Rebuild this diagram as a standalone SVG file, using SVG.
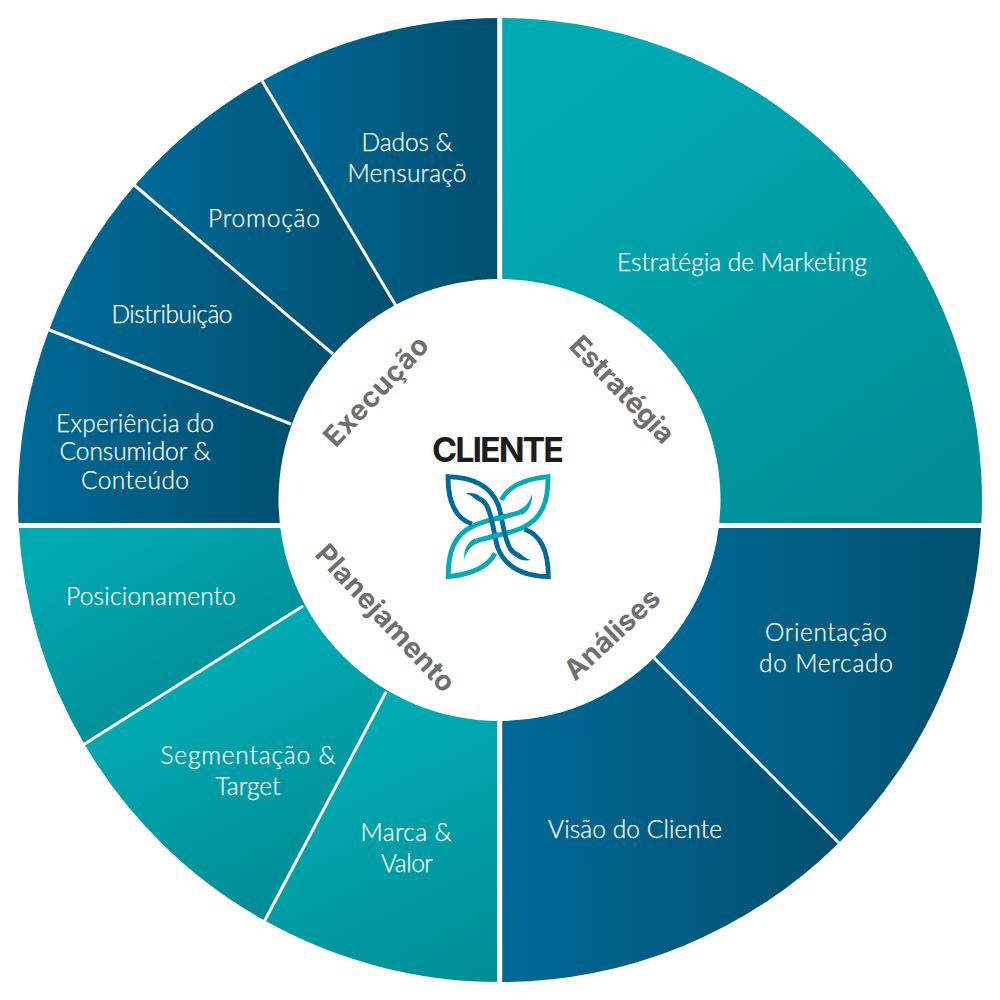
<svg xmlns="http://www.w3.org/2000/svg" width="1000" height="1000" viewBox="0 0 1000 1000">
<defs>
<linearGradient id="tc"><stop offset="0" stop-color="#00aab3"/><stop offset="1" stop-color="#008c94"/></linearGradient>
<linearGradient id="bc"><stop offset="0" stop-color="#006a97"/><stop offset="1" stop-color="#004f6e"/></linearGradient>
<linearGradient id="g-est" href="#tc" gradientUnits="userSpaceOnUse" x1="600" y1="80" x2="930" y2="520"/>
<linearGradient id="g-mar" href="#tc" gradientUnits="userSpaceOnUse" x1="380" y1="730" x2="500" y2="985"/>
<linearGradient id="g-seg" href="#tc" gradientUnits="userSpaceOnUse" x1="190" y1="680" x2="300" y2="900"/>
<linearGradient id="g-pos" href="#tc" gradientUnits="userSpaceOnUse" x1="70" y1="540" x2="180" y2="730"/>
<linearGradient id="g-ori" href="#bc" gradientUnits="userSpaceOnUse" x1="655" y1="0" x2="982" y2="0"/>
<linearGradient id="g-vis" href="#bc" gradientUnits="userSpaceOnUse" x1="502" y1="0" x2="838" y2="0"/>
<linearGradient id="g-exp" href="#bc" gradientUnits="userSpaceOnUse" x1="18" y1="0" x2="290" y2="0"/>
<linearGradient id="g-dis" href="#bc" gradientUnits="userSpaceOnUse" x1="48" y1="0" x2="335" y2="0"/>
<linearGradient id="g-pro" href="#bc" gradientUnits="userSpaceOnUse" x1="134" y1="0" x2="396" y2="0"/>
<linearGradient id="g-dad" href="#bc" gradientUnits="userSpaceOnUse" x1="262" y1="0" x2="498" y2="0"/>
<g id="blue-strand">
<path class="bs" d="M156 312C105 295 84 240 84 170C160 172 212 198 235 255C248 295 250 350 270 385C277 396 285 402 295 406"/>
<path d="M298 398C308 408 318 415 332 420C315 423 302 421 291 413Z" fill="#006b9a"/>
</g>
<g id="teal-strand">
<path class="ts" d="M225 400C205 440 160 462 85 470C84 400 100 345 160 318C200 298 260 291 300 277"/>
<path d="M296 270C315 263 330 245 336 222C339 250 325 276 304 285Z" fill="#00acb6"/>
</g>
</defs>
<style>
.l{font-family:"Lato","Liberation Sans",sans-serif;font-weight:300;font-size:24.5px;fill:#fff;stroke:#fff;stroke-width:.25;text-anchor:middle}
.h{font-family:"Inter","Liberation Sans",sans-serif;font-weight:700;font-size:28px;fill:#706f6f;text-anchor:middle}
.d{stroke:#fff;stroke-width:3;fill:none}
.g{stroke:#fff;stroke-width:5;fill:none}
.bs{fill:none;stroke:#006b9a;stroke-width:14.500;stroke-miterlimit:10}
.ts{fill:none;stroke:#00acb6;stroke-width:14.500;stroke-miterlimit:10}
</style>
<rect width="1000" height="1000" fill="#fff"/>
<g id="seg-estrategia"><path d="M500 18A482 482 0 0 1 981.300 525.500L500 525.500Z" fill="url(#g-est)"/><text class="l" x="742" y="271" textLength="250">Estratégia de Marketing</text></g>
<g id="seg-orientacao"><path d="M981.300 525.500A482 482 0 0 1 838.800 842.900L500 504L500 525.500Z" fill="url(#g-ori)"/><text class="l" x="826" y="641" textLength="122">Orientação</text><text class="l" x="826" y="672" textLength="134">do Mercado</text></g>
<g id="seg-visao"><path d="M838.800 842.900A482 482 0 0 1 500 982L500 504Z" fill="url(#g-vis)"/><text class="l" x="635" y="838" textLength="174">Visão do Cliente</text></g>
<g id="seg-marca"><path d="M500 982A482 482 0 0 1 264.700 920.600L400 665L500 525.500Z" fill="url(#g-mar)"/><text class="l" x="406" y="841" textLength="91">Marca &amp;</text><text class="l" x="407" y="872" textLength="52">Valor</text></g>
<g id="seg-segmentacao"><path d="M264.700 920.600A482 482 0 0 1 84.500 744.300L400 545L400 665Z" fill="url(#g-seg)"/><text class="l" x="248" y="764" textLength="175">Segmentação &amp;</text><text class="l" x="248" y="795" textLength="65">Target</text></g>
<g id="seg-posicionamento"><path d="M84.500 744.300A482 482 0 0 1 18.700 525.500L400 525.500L400 545Z" fill="url(#g-pos)"/><text class="l" x="151" y="605" textLength="170">Posicionamento</text></g>
<g id="seg-experiencia"><path d="M18.700 525.500A482 482 0 0 1 49.200 329.500L330 440L330 525.500Z" fill="url(#g-exp)"/><text class="l" x="135" y="432" textLength="158">Experiência do</text><text class="l" x="135" y="460" textLength="151">Consumidor &amp;</text><text class="l" x="135" y="489" textLength="108">Conteúdo</text></g>
<g id="seg-distribuicao"><path d="M49.200 329.500A482 482 0 0 1 134.700 185.600L370 385L330 440Z" fill="url(#g-dis)"/><text class="l" x="172" y="323" textLength="121">Distribuição</text></g>
<g id="seg-promocao"><path d="M134.700 185.600A482 482 0 0 1 262 81L430 362L370 385Z" fill="url(#g-pro)"/><text class="l" x="264" y="227" textLength="112">Promoção</text></g>
<g id="seg-dados"><path d="M262 81A482 482 0 0 1 500 18L500 400L430 362Z" fill="url(#g-dad)"/><text class="l" x="407" y="151" textLength="91">Dados &amp;</text><text class="l" x="407" y="182" textLength="119">Mensuraçõ</text></g>
<g id="connectors">
<path class="g" d="M499.700 10V990"/>
<path class="g" d="M10 525.600H990"/>
<path class="d" d="M654 658L840 844"/>
<path class="d" d="M386 692L264 922"/>
<path class="d" d="M303 606L83 745"/>
<path class="d" d="M291 424L47 329"/>
<path class="d" d="M333 354L133 184"/>
<path class="d" d="M396 306L261 79"/>
</g>
<g id="center">
<circle cx="499.500" cy="500" r="221" fill="#fff"/>
<text class="h" transform="translate(621.700 390) rotate(46)" y="9" textLength="137">Estratégia</text>
<text class="h" transform="translate(376.500 391.500) rotate(-47)" y="9" textLength="139">Execução</text>
<text class="h" transform="translate(385 618.500) rotate(47)" y="9" textLength="190">Planejamento</text>
<text class="h" transform="translate(612.500 634.500) rotate(-43)" y="9" textLength="119">Análises</text>
<text x="498" y="462" textLength="132" style="font-family:'Inter','Liberation Sans',sans-serif;font-weight:700;font-size:34px;fill:#1d1d1b;text-anchor:middle">CLIENTE</text>
</g>
<g id="logo" transform="translate(420 420) scale(.33333)">
<use href="#teal-strand"/>
<use href="#teal-strand" transform="rotate(180 234.500 320)"/>
<use href="#blue-strand"/>
<use href="#blue-strand" transform="rotate(180 234.500 320)"/>
<path class="ts" d="M232 296L258 289"/>
<path class="ts" d="M237 344L211 351"/>
</g>
</svg>
